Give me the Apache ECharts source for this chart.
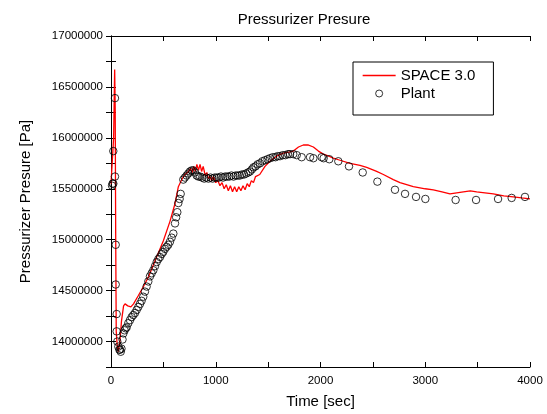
<!DOCTYPE html>
<html>
<head>
<meta charset="utf-8">
<script src="https://cdn.jsdelivr.net/npm/echarts@6/dist/echarts.min.js"></script>
<style>html,body{margin:0;padding:0;background:#fff;}#c{width:547px;height:414px;}</style>
</head>
<body>
<div id="c"></div>
<script>
// SPACE 3.0 simulation (time in s, pressure in MPa*1e6 -> Pa)
const simTime = [0,15,25,35,40,45,50,60,70,85,100,120,134,160,190,215,260,310,360,436,500,563,610,643,680,706,740,760,775,790,805,820,835,850,865,880,900,915,930,945,960,977,1000,1020,1040,1060,1080,1100,1120,1140,1160,1180,1200,1220,1240,1260,1280,1300,1320,1340,1360,1380,1420,1470,1518,1580,1645,1700,1741,1790,1836,1880,1932,1980,2027,2080,2122,2186,2282,2377,2441,2536,2600,2695,2759,2886,3000,3077,3160,3236,3300,3364,3430,3491,3570,3650,3750,3841,3920,4000];
const simPressure = [15.55,15.56,16.0,16.67,16.3,15.0,14.1,13.95,13.90,14.0,14.2,14.35,14.37,14.35,14.34,14.37,14.45,14.54,14.64,14.83,14.99,15.18,15.35,15.52,15.60,15.64,15.67,15.70,15.66,15.72,15.67,15.74,15.68,15.74,15.67,15.72,15.63,15.66,15.60,15.62,15.58,15.62,15.56,15.58,15.53,15.56,15.50,15.54,15.48,15.53,15.47,15.52,15.47,15.52,15.48,15.53,15.49,15.55,15.52,15.58,15.56,15.62,15.64,15.72,15.77,15.82,15.85,15.86,15.87,15.91,15.93,15.93,15.91,15.87,15.84,15.82,15.80,15.78,15.75,15.73,15.71,15.67,15.64,15.59,15.56,15.52,15.50,15.49,15.47,15.45,15.46,15.47,15.48,15.47,15.46,15.45,15.43,15.42,15.41,15.40];
// Plant measurements
const plantTime = [10,15,22,22,38,38,45,45,54,54,60,70,80,86,93,100,110,118,130,140,150,165,181,197,213,229,245,261,277,292,308,324,340,356,372,388,404,420,436,452,468,484,499,515,531,547,563,579,595,611,622,633,643,655,665,690,705,722,738,754,770,786,802,818,834,850,870,890,910,930,950,970,990,1010,1030,1050,1070,1090,1110,1130,1150,1170,1190,1210,1230,1250,1270,1290,1310,1327,1345,1360,1380,1400,1422,1445,1470,1495,1518,1545,1570,1590,1613,1640,1665,1690,1709,1740,1773,1820,1900,1932,2011,2030,2084,2170,2272,2403,2543,2711,2807,2912,3001,3290,3485,3695,3825,3952];
const plantPressure = [15.53,15.55,15.55,15.87,16.39,15.62,14.95,14.56,14.27,14.10,14.00,13.95,13.92,13.92,13.90,13.93,14.02,14.08,14.11,14.13,14.14,14.18,14.21,14.24,14.26,14.28,14.31,14.34,14.37,14.40,14.44,14.49,14.54,14.59,14.64,14.67,14.70,14.74,14.78,14.81,14.83,14.86,14.88,14.91,14.93,14.95,14.98,15.02,15.06,15.16,15.22,15.27,15.36,15.40,15.45,15.59,15.61,15.63,15.65,15.67,15.68,15.68,15.66,15.63,15.62,15.62,15.61,15.60,15.61,15.60,15.61,15.60,15.61,15.61,15.61,15.62,15.61,15.62,15.62,15.62,15.63,15.62,15.63,15.63,15.63,15.64,15.64,15.65,15.66,15.67,15.69,15.71,15.72,15.74,15.75,15.77,15.78,15.79,15.80,15.81,15.81,15.82,15.82,15.83,15.83,15.84,15.84,15.84,15.83,15.81,15.81,15.80,15.81,15.80,15.79,15.77,15.72,15.66,15.57,15.49,15.45,15.42,15.40,15.39,15.39,15.40,15.41,15.42];

const simData = simTime.map((t,i)=>[t, Math.round(simPressure[i]*1e6)]);
const plantData = plantTime.map((t,i)=>[t, Math.round(plantPressure[i]*1e6)]);

const FONT = '"Liberation Sans", Arial, sans-serif';
const axisLineStyle = {color:'#000', width:1};
const chart = echarts.init(document.getElementById('c'), null, {renderer:'canvas'});
chart.setOption({
  animation:false,
  backgroundColor:'#fff',
  textStyle:{fontFamily:FONT, color:'#000'},
  title:{text:'Pressurizer Presure', left:299, top:7, textAlign:'center',
    textStyle:{fontFamily:FONT, fontSize:15, fontWeight:'normal', color:'#000'}},
  grid:{left:111, right:17, top:36, bottom:47, containLabel:false},
  legend:{
    left:353, top:62, orient:'vertical',
    borderColor:'#000', borderWidth:1, borderRadius:0,
    padding:[6,18,14,9], itemGap:3, itemWidth:33, itemHeight:7,
    textStyle:{fontFamily:FONT, fontSize:15, color:'#000'},
    data:[
      {name:'SPACE 3.0', itemStyle:{opacity:0}, lineStyle:{color:'#ff0000', width:1.3}},
      {name:'Plant', itemStyle:{color:'rgba(0,0,0,0)', borderColor:'#000', borderWidth:1}}
    ]
  },
  xAxis:[{
    type:'value', min:0, max:4000, interval:500, position:'bottom',
    name:'Time [sec]', nameLocation:'middle', nameGap:27,
    nameTextStyle:{fontFamily:FONT, fontSize:15, color:'#000'},
    axisLine:{show:true, lineStyle:axisLineStyle},
    axisTick:{show:true, inside:true, length:5, lineStyle:axisLineStyle},
    axisLabel:{margin:8, fontFamily:FONT, fontSize:11.5, color:'#000',
      formatter:v=> (v%1000===0 ? String(v) : '')},
    splitLine:{show:false}
  },{
    type:'value', min:0, max:4000, interval:500, position:'top',
    axisLine:{show:true, lineStyle:axisLineStyle},
    axisTick:{show:true, inside:true, length:5, lineStyle:axisLineStyle},
    axisLabel:{show:false}, splitLine:{show:false}
  }],
  yAxis:[{
    type:'value', min:13750000, max:17000000, interval:250000, position:'left',
    name:'Pressurizer Presure [Pa]', nameLocation:'middle', nameGap:78,
    nameTextStyle:{fontFamily:FONT, fontSize:15, color:'#000'},
    axisLine:{show:true, lineStyle:axisLineStyle},
    axisTick:{show:true, inside:true, length:5, lineStyle:axisLineStyle},
    axisLabel:{margin:8, fontFamily:FONT, fontSize:11.5, color:'#000',
      formatter:v=> (v%500000===0 && v>=14000000 ? String(v) : '')},
    splitLine:{show:false}
  },{
    type:'value', min:13750000, max:17000000, interval:250000, position:'right',
    axisLine:{show:true, lineStyle:axisLineStyle},
    axisTick:{show:true, inside:true, length:5, lineStyle:axisLineStyle},
    axisLabel:{show:false}, splitLine:{show:false}
  }],
  series:[{
    name:'SPACE 3.0', type:'line', data:simData, symbol:'none', xAxisIndex:0, yAxisIndex:0,
    lineStyle:{color:'#ff0000', width:1.3}, itemStyle:{color:'#ff0000'}, z:2
  },{
    name:'Plant', type:'scatter', data:plantData, symbol:'circle', symbolSize:7.5, xAxisIndex:0, yAxisIndex:0,
    itemStyle:{color:'rgba(0,0,0,0)', borderColor:'#000', borderWidth:1}, z:3
  }]
});
</script>
</body>
</html>
